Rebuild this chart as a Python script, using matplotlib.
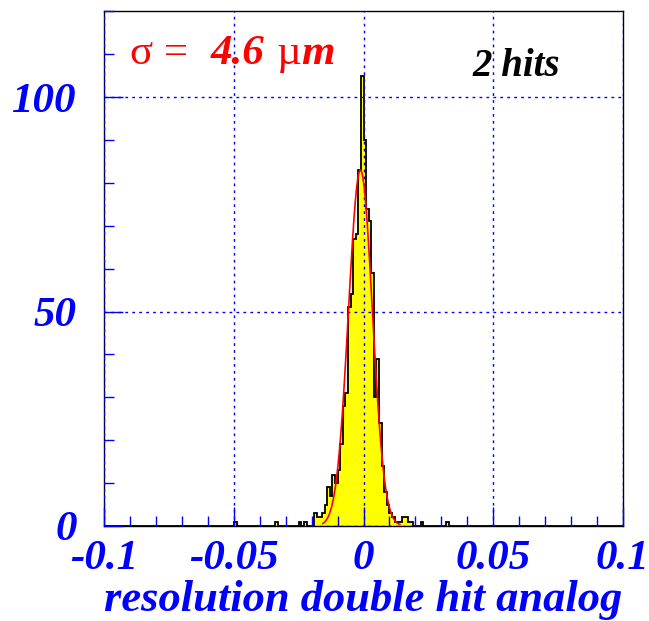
import numpy as np
import matplotlib.pyplot as plt
from matplotlib.ticker import MultipleLocator

# histogram: 200 bins of 0.001 between -0.1 and 0.1, only the filled ones listed
x_min, x_max, n_bins = -0.1, 0.1, 200
bin_index = [-50, -34, -25, -23,
             -19, -18, -17, -16, -15, -14, -13, -12, -11, -10,
             -9, -8, -7, -6, -5, -4, -3, -2, -1,
             0, 1, 2, 3, 4, 5, 6, 7, 8, 9,
             10, 11, 12, 13, 14, 15, 16, 17, 18, 22, 32]
bin_count = [1, 1, 1, 1,
             3, 2, 2, 3, 5, 9, 7, 12, 10, 13,
             19, 28, 31, 51, 54, 67, 68, 83, 105,
             90, 74, 71, 59, 30, 39, 24, 14, 8, 5,
             3, 2, 1, 1, 1, 2, 2, 1, 1, 1, 1]

# gaussian fit
fit_amp = 83.0
fit_mean = -0.0012
fit_sigma = 0.0046
fit_lo, fit_hi = -0.0157, 0.0140

x_ticks = [-0.1, -0.05, 0.0, 0.05, 0.1]
x_ticklabels = ["-0.1", "-0.05", "0", "0.05", "0.1"]
y_ticks = [0, 50, 100]
y_ticklabels = ["0", "50", "100"]

BLUE = "#0000ff"
RED = "#ff0000"
SERIF = "Liberation Serif"

edges = np.linspace(x_min, x_max, n_bins + 1)
counts = np.zeros(n_bins)
for k, c in zip(bin_index, bin_count):
    counts[k + n_bins // 2] = c

fig = plt.figure(figsize=(6.49, 6.21), dpi=100)
ax = fig.add_axes([0.1607, 0.153, 0.7989, 0.8288])

ax.stairs(counts, edges, fill=True, color="#ffff00", zorder=1)
ax.stairs(counts, edges, color="black", lw=1.3, zorder=1.5)

xf = np.linspace(fit_lo, fit_hi, 300)
yf = fit_amp * np.exp(-0.5 * ((xf - fit_mean) / fit_sigma) ** 2)
ax.plot(xf, yf, color=RED, lw=1.2, zorder=3)

ax.set_xlim(x_min, x_max)
ax.set_ylim(0, 120)

ax.set_xticks(x_ticks)
ax.set_xticklabels(x_ticklabels)
ax.set_yticks(y_ticks)
ax.set_yticklabels(y_ticklabels)
ax.xaxis.set_minor_locator(MultipleLocator(0.01))
ax.yaxis.set_minor_locator(MultipleLocator(10))

tick_font = dict(family=SERIF, weight="bold", style="italic", size=31)
for lab in ax.get_xticklabels() + ax.get_yticklabels():
    lab.set(**tick_font)

ax.tick_params(which="both", direction="in", color=BLUE, labelcolor=BLUE,
               top=False, right=False, width=1)
ax.tick_params(which="major", length=14)
ax.tick_params(which="minor", length=7)
ax.tick_params(axis="x", which="major", pad=10)
ax.tick_params(axis="y", which="major", pad=20)

ax.grid(True, which="major", color=BLUE, linestyle=(0, (2, 3)), lw=1)
ax.set_axisbelow(False)
for sp in ax.spines.values():
    sp.set_color("black")
    sp.set_linewidth(1.0)

fig.text(622 / 649, 1 - 600 / 621, "resolution double hit analog",
         ha="right", va="center", color=BLUE, family=SERIF,
         weight="bold", style="italic", size=32)

# sigma label built from pieces: upright greek, bold italic numbers
t1 = ax.text(0.05, 0.898, "\u03c3 =", transform=ax.transAxes, color=RED,
             family=SERIF, size=31, va="baseline")
t2 = ax.annotate("4.6", xy=(1, 0), xycoords=t1, xytext=(16, 0),
                 textcoords="offset points", va="bottom", color=RED,
                 family=SERIF, weight="bold", style="italic", size=31)
t3 = ax.annotate("\u00b5", xy=(1, 0), xycoords=t2, xytext=(9, 0),
                 textcoords="offset points", va="bottom", color=RED,
                 family=SERIF, size=31)
ax.annotate("m", xy=(1, 0), xycoords=t3, xytext=(0, 0),
            textcoords="offset points", va="bottom", color=RED,
            family=SERIF, weight="bold", style="italic", size=31)

ax.text(0.711, 0.874, "2 hits", transform=ax.transAxes, color="black",
        family=SERIF, weight="bold", style="italic", size=28, va="baseline")

fig.savefig("out.png", dpi=100)
